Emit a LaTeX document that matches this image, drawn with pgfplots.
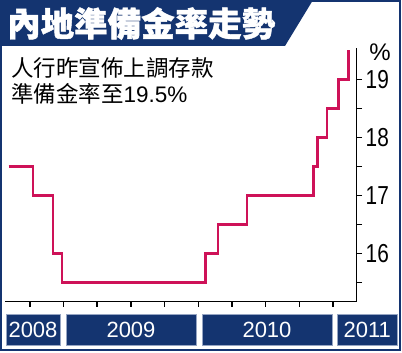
\documentclass[border=0pt]{standalone}
\usepackage{pgfplots}
\pgfplotsset{compat=1.18}
\usepackage{fontspec}
\setmainfont{Liberation Sans}
\newfontfamily\cjk{Noto Sans CJK TC}[BoldFeatures={FakeBold=1.3}]
\newfontfamily\narrowfont[FakeStretch=0.8]{Liberation Sans}
\definecolor{navy}{RGB}{20,52,112}
\definecolor{crim}{RGB}{206,18,88}
\definecolor{boxedge}{RGB}{150,165,195}
\begin{document}
\begin{tikzpicture}
\begin{scope}[x=1pt,y=1pt]
\fill[white] (0,0) rectangle (402,353);
\useasboundingbox (0,0) rectangle (402,353);
% outer frame
\draw[navy, line width=2pt] (1,2.5) rectangle (399.5,352);
% title band
\fill[navy] (0,353) -- (313,353) -- (285,307) -- (0,307) -- cycle;
\node[anchor=west, text=white, inner sep=0pt, font=\cjk\bfseries\fontsize{33.5}{36}\selectfont] at (7,329.5) {內地準備金率走勢};
% subtitle
\node[anchor=west, inner sep=0pt, font=\cjk\fontsize{22.5}{25}\selectfont] at (11,285) {人行昨宣佈上調存款};
\node[anchor=west, inner sep=0pt, font=\cjk\fontsize{22.5}{25}\selectfont] at (11,259.5) {準備金率至{\fontspec{Liberation Sans}19.5\%}};
% percent sign
\node[anchor=center, inner sep=0pt, font=\fontsize{24}{26}\selectfont] at (380,300.5) {\%};
% year boxes
\foreach \a/\b/\t in {6/60/2008, 66/196/2009, 202/332/2010, 337/397.5/2011}{
  \filldraw[fill=navy, draw=boxedge, line width=0.8pt] (\a,8) rectangle (\b,39);
  \node[text=white, inner sep=0pt, font=\fontsize{22}{24}\selectfont] at ({(\a+\b)/2},23.5) {\t};
}
\end{scope}
\begin{axis}[
  at={(5pt,51.5pt)}, anchor=south west,
  scale only axis, width=351.5pt, height=253.5pt,
  xmin=2008.566, xmax=2011.174,
  ymin=15.172, ymax=19.543,
  axis x line*=bottom, axis y line*=right,
  axis line style={-, line width=1.8pt, black},
  xtick={2008.75,2009,2009.25,2009.5,2009.75,2010,2010.25,2010.5,2010.75,2011},
  xticklabels={},
  scaled x ticks=false,
  ytick={16,17,18,19},
  minor ytick={15.5,16.5,17.5,18.5},
  tick align=outside,
  major tick length=5.5pt, minor tick length=5.5pt,
  every tick/.style={black, line width=1.5pt},
  /pgf/number format/assume math mode=true,
  yticklabel style={font=\narrowfont\fontsize{26}{28}\selectfont, anchor=west, inner sep=0pt, xshift=3.5pt},
  clip=false,
]
\addplot[const plot, color=crim, line width=2.6pt, mark=none] coordinates {
(2008.592,17.5) (2008.775,17) (2008.921,16) (2008.988,15.5)
(2010.052,16) (2010.146,16.5) (2010.362,17) (2010.856,17.5)
(2010.886,18) (2010.955,18.5) (2011.04,19) (2011.116,19.5)
};
\end{axis}
\end{tikzpicture}
\end{document}
